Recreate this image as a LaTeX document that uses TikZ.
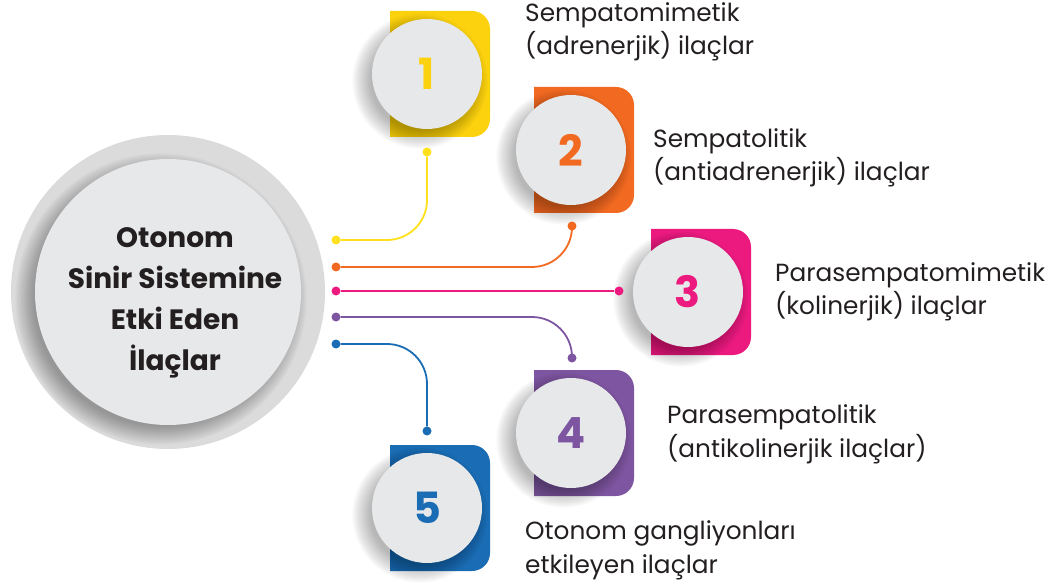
\documentclass[tikz,border=0pt]{standalone}
\usepackage{fontspec}
\setmainfont{Poppins}
\usetikzlibrary{calc}
\definecolor{cyel}{HTML}{FCD20F}
\definecolor{cyl}{HTML}{FFE01A}
\definecolor{cora}{HTML}{F26A21}
\definecolor{cpink}{HTML}{EC1A7F}
\definecolor{cpur}{HTML}{7E55A1}
\definecolor{cblu}{HTML}{1A6CB4}
\definecolor{cdisc}{HTML}{E6E8E9}
\definecolor{cring}{HTML}{DCDBDB}
\definecolor{ctxt}{HTML}{231F20}
\tikzset{
  numcirc/.style={circle, fill=cdisc, minimum size=110pt, inner sep=0pt, font=\fontsize{43}{43}\selectfont\bfseries},
  dotnode/.style={circle, inner sep=0pt, minimum size=9pt},
  conn/.style={line width=1.8pt, rounded corners=40pt},
  lbl/.style={anchor=base west, align=left, text=ctxt, inner sep=0pt, font=\fontsize{24.8}{33.5}\selectfont},
}
\newcommand\softshade[3]{% cx, cy, r
  \foreach \k in {1,...,14}{
    \fill[black, opacity=0.025] ({#1-7},{#2+7}) circle ({#3+14-\k*1.4});
  }
}
\newcommand\drawtab[5]{% name, color, x, y, number
  \fill[#2] (#3,#4) -- ({#3+82},#4) arc[start angle=-90, end angle=0, radius=18]
    -- ({#3+100},{#4+108}) arc[start angle=0, end angle=90, radius=18]
    -- (#3,{#4+126}) -- cycle;
  \softshade{#3+37}{#4+63}{55}
  \node[numcirc, text=#2] (#1) at ({#3+37},{#4+63}) {#5};
}
\begin{document}
\begin{tikzpicture}[x=1pt,y=-1pt]
\useasboundingbox (0,0) rectangle (1050,588);
% hub
\node[circle, fill=cring, minimum size=314pt, inner sep=0pt] (ring) at (168,292) {};
\softshade{168}{292}{133}
\node[circle, fill=cdisc, minimum size=266pt, inner sep=0pt] (hub) at (168,292) {};
\node[align=center, text=ctxt, inner sep=0pt, anchor=base, font=\fontsize{28}{41}\selectfont\bfseries] (title) at (175,370) {Otonom\\Sinir Sistemine\\Etki Eden\\İlaçlar};
% tabs
\drawtab{n1}{cyel}{390}{11}{1}
\drawtab{n2}{cora}{534}{87}{2}
\drawtab{n3}{cpink}{651}{229}{3}
\drawtab{n4}{cpur}{534}{370}{4}
\drawtab{n5}{cblu}{390}{445}{5}
% dots
\node[dotnode, fill=cyl] (a1) at (336,240) {};
\node[dotnode, fill=cyl] (b1) at (427,152) {};
\node[dotnode, fill=cora] (a2) at (336,267) {};
\node[dotnode, fill=cora] (b2) at (572,226) {};
\node[dotnode, fill=cpink] (a3) at (336,291) {};
\node[dotnode, fill=cpink] (b3) at (619,291) {};
\node[dotnode, fill=cpur] (a4) at (336,317) {};
\node[dotnode, fill=cpur] (b4) at (572,358) {};
\node[dotnode, fill=cblu] (a5) at (336,344) {};
\node[dotnode, fill=cblu] (b5) at (427,431) {};
% connectors
\draw[conn, cyl] (b1) |- (a1);
\draw[conn, cora] (b2) |- (a2);
\draw[conn, cpink] (a3) -- (b3);
\draw[conn, cpur] (b4) |- (a4);
\draw[conn, cblu] (b5) |- (a5);
% labels
\node[lbl] (l1) at (525,55) {Sempatomimetik\\(adrenerjik) ilaçlar};
\node[lbl] (l2) at (653,181) {Sempatolitik\\(antiadrenerjik) ilaçlar};
\node[lbl] (l3) at (775,315) {Parasempatomimetik\\(kolinerjik) ilaçlar};
\node[lbl] (l4) at (667,457) {Parasempatolitik\\(antikolinerjik ilaçlar)};
\node[lbl] (l5) at (525,573) {Otonom gangliyonları\\etkileyen ilaçlar};
\end{tikzpicture}
\end{document}
